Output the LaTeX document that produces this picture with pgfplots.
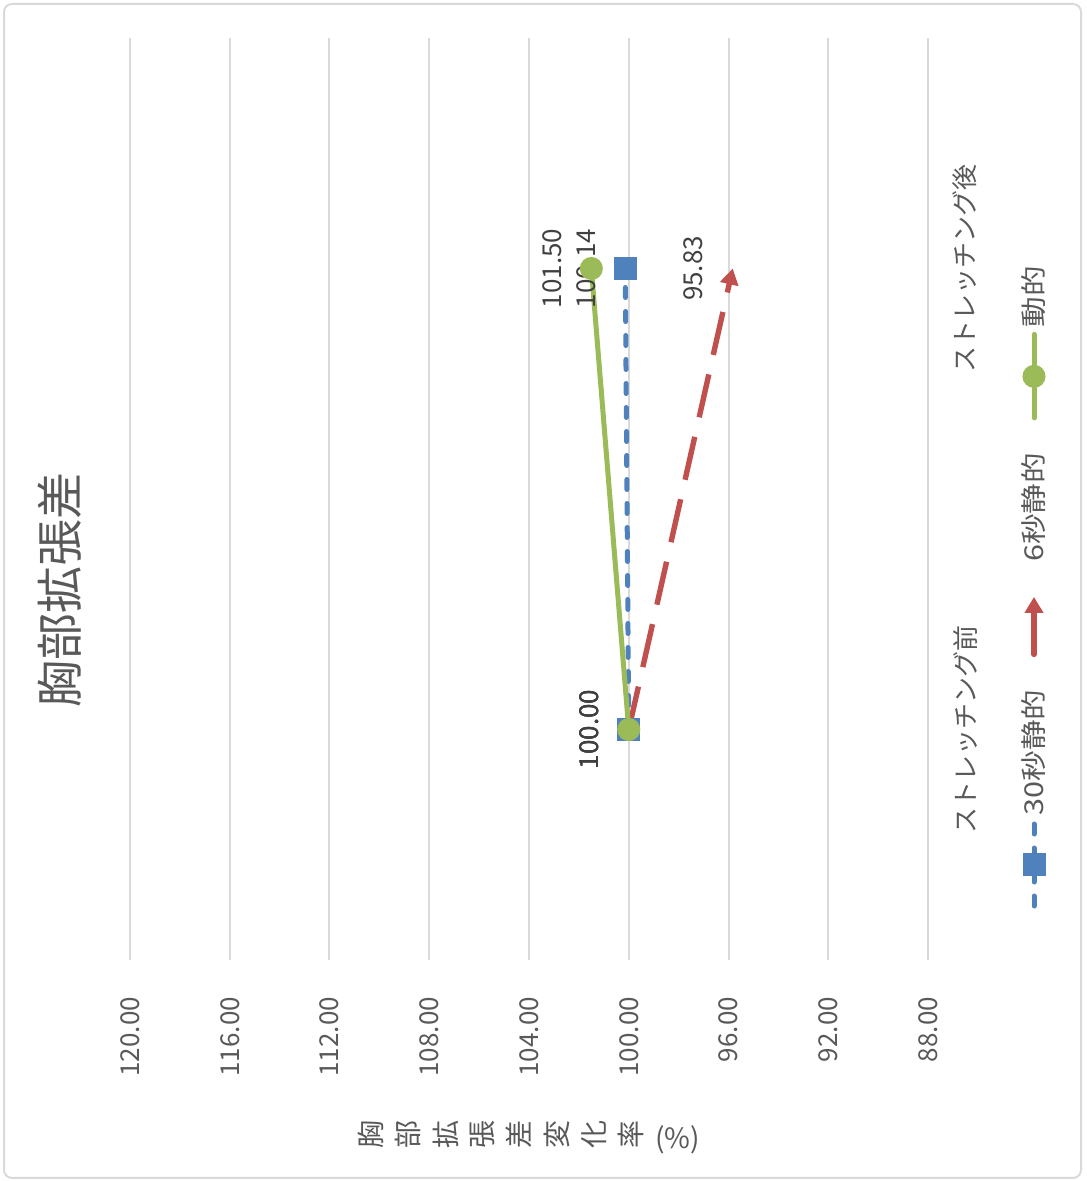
\documentclass[border=0pt]{standalone}
\usepackage{pgfplots}
\pgfplotsset{compat=1.18}
\usepackage{fontspec}
\setmainfont{Noto Sans CJK JP}
\usepackage{graphicx}
\usetikzlibrary{arrows.meta}
\definecolor{cblue}{HTML}{4F81BD}
\definecolor{cred}{HTML}{C0504D}
\definecolor{cgreen}{HTML}{9BBB59}
\definecolor{cgrid}{HTML}{D9D9D9}
\definecolor{ctext}{HTML}{595959}
\definecolor{clabel}{HTML}{404040}
\newcommand\rcs[1]{\rotatebox{90}{#1}\hspace{5.8pt}}
\newcommand\legtext[2]{\node[rotate=90, anchor=west, inner sep=0pt, font=\fontsize{13}{15}\selectfont, text=ctext] at (0pt,#1) {\scalebox{1.18}[1]{#2}};}
\pgfplotsset{
  legblue/.style={legend image code/.code={\draw[mark repeat=2,mark phase=2,##1, rotate=90] plot coordinates {(1.25pt,0pt) (22pt,0pt) (43pt,0pt)};\legtext{46.5pt}{30秒静的}}},
  legred/.style={legend image code/.code={\draw[##1, rotate=90, solid, line cap=round] plot coordinates {(1.25pt,0pt) (30pt,0pt)};\legtext{47.5pt}{6秒静的}}},
  leggreen/.style={legend image code/.code={\draw[mark repeat=2,mark phase=2,##1, rotate=90] plot coordinates {(1.25pt,0pt) (22pt,0pt) (43pt,0pt)};\legtext{46.5pt}{動的}}},
}
\begin{document}
\begin{tikzpicture}
\path[use as bounding box] (0,0) rectangle (543pt,590.5pt);
\draw[cgrid, line width=1pt, rounded corners=4pt] (2pt,1.5pt) rectangle (540.5pt,588.5pt);
\node[rotate=90, font=\fontsize{23.5}{27}\selectfont, text=ctext] at (30pt,295.5pt) {胸部拡張差};
\begin{axis}[
  at={(65pt,110.5pt)}, anchor=south west,
  scale only axis, width=399pt, height=461pt,
  x dir=reverse, xmin=88, xmax=120, xtick={88,92,...,120},
  ymin=-0.5, ymax=1.5, ytick={0,1}, yticklabels={ストレッチング前,ストレッチング後},
  yticklabel pos=right,
  axis line style={draw=none}, major tick length=0pt,
  xmajorgrids, major grid style={cgrid, line width=1pt},
  /pgf/number format/assume math mode=true,
  /pgf/number format/fixed, /pgf/number format/zerofill, /pgf/number format/precision=2,
  ticklabel style={font=\fontsize{13}{15}\selectfont, text=ctext},
  xticklabel style={rotate=90, anchor=east},
  yticklabel style={rotate=90, anchor=north},
  xticklabel shift=15pt, yticklabel shift=9pt,
  xlabel={\rcs{胸}\rcs{部}\rcs{拡}\rcs{張}\rcs{差}\rcs{変}\rcs{化}\rcs{率}(\%)},
  xlabel style={at={(axis description cs:0.5,-0.192)}, anchor=center, font=\fontsize{14}{16}\selectfont, text=ctext},
  point meta=x,
  nodes near coords,
  every node near coord/.append style={rotate=90, anchor=south, outer ysep=11.5pt, font=\fontsize{13}{15}\selectfont, text=clabel},
  legend columns=1, reverse legend,
  legend style={at={(axis description cs:1.1341,0.0542)}, anchor=south, draw=none, fill=none, inner sep=0pt, outer sep=0pt, row sep=15.5pt, nodes={inner sep=0pt, outer sep=0pt}},
]
\addplot[cblue, line width=2.5pt, line cap=round, dash pattern=on 5pt off 7pt, mark=square*, mark size=4.5pt, mark options={solid}, legblue]
  coordinates {(100,0) (100.14,1)};
\addlegendentry{\mbox{}}
\addplot[cred, line width=2.7pt, dash pattern=on 22pt off 10pt, -{Triangle[width=9pt,length=8pt]}, legred]
  coordinates {(100,0) (95.83,1)};
\addlegendentry{\mbox{}}
\addplot[cgreen, line width=2.5pt, line cap=round, mark=*, mark size=4.5pt, leggreen]
  coordinates {(100,0) (101.50,1)};
\addlegendentry{\mbox{}}
\end{axis}
\end{tikzpicture}
\end{document}
